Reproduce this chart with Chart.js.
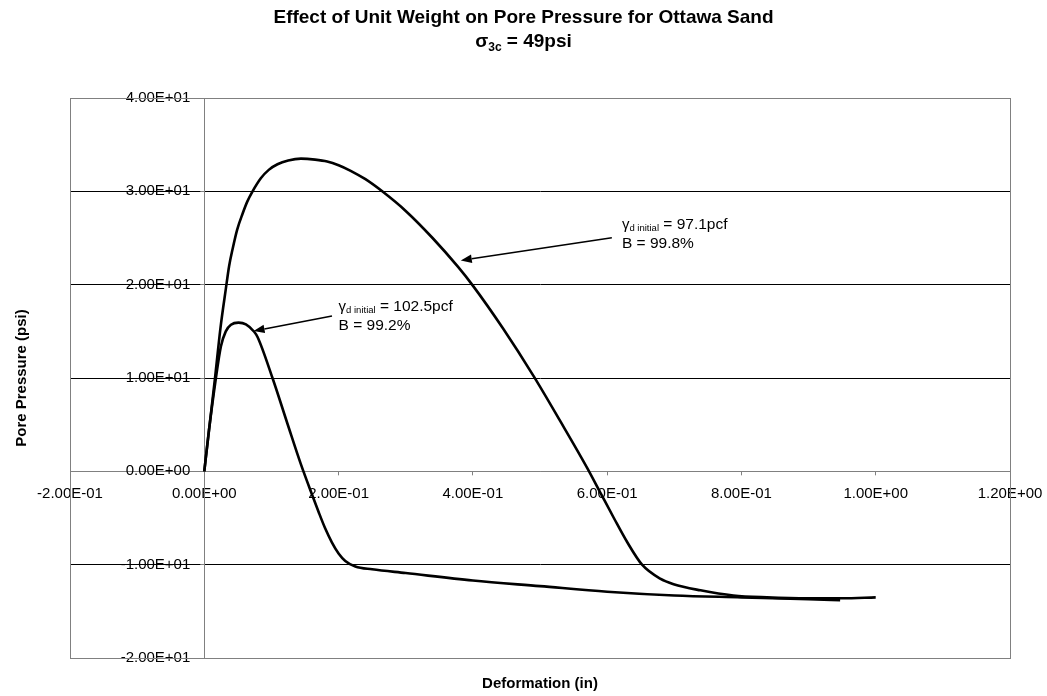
<!DOCTYPE html>
<html><head><meta charset="utf-8">
<script src="https://cdn.jsdelivr.net/npm/chart.js@4.4.1/dist/chart.umd.min.js"></script>
<style>html,body{margin:0;padding:0;background:#fff}canvas{display:block}</style>
</head><body>
<canvas id="c" width="1047" height="696"></canvas>
<script>
// ---- data ----
const xTicks = [-0.2, 0, 0.2, 0.4, 0.6, 0.8, 1.0, 1.2];
const yTicks = [-20, -10, 0, 10, 20, 30, 40];

// gamma_d initial = 97.1 pcf, B = 99.8%
const def97X = [0, 0.007, 0.016, 0.024, 0.0322, 0.037, 0.0421, 0.049, 0.057, 0.064, 0.0719, 0.0842, 0.096, 0.109, 0.125, 0.144, 0.165, 0.183, 0.2, 0.218, 0.24, 0.265, 0.30, 0.34, 0.378, 0.40, 0.445, 0.4905, 0.53, 0.57, 0.59, 0.61, 0.63, 0.652, 0.679, 0.699, 0.739, 0.788, 0.838, 0.9, 0.95, 1.0];
const pp97Y  = [0, 4.4, 10.0, 15.3, 19.6, 22.0, 23.8, 25.9, 27.6, 28.9, 30.0, 31.4, 32.3, 32.9, 33.3, 33.5, 33.4, 33.2, 32.8, 32.2, 31.3, 30.0, 27.9, 25.0, 21.9, 19.9, 15.3, 10.2, 5.4, 0.4, -2.3, -5.0, -7.6, -10.0, -11.5, -12.1, -12.75, -13.3, -13.5, -13.6, -13.6, -13.5];

// gamma_d initial = 102.5 pcf, B = 99.2%
const def102X = [0, 0.007, 0.0173, 0.0248, 0.032, 0.0397, 0.051, 0.062, 0.0743, 0.0793, 0.1016, 0.1239, 0.1437, 0.16, 0.17, 0.18, 0.19, 0.20, 0.21, 0.225, 0.25, 0.3, 0.4, 0.5, 0.6, 0.7, 0.8, 0.9, 0.947];
const pp102Y  = [0, 4.4, 10.0, 13.4, 15.0, 15.7, 15.93, 15.75, 14.96, 14.4, 10.0, 5.1, 0.8, -2.4, -4.3, -6.1, -7.6, -8.8, -9.6, -10.2, -10.5, -10.9, -11.7, -12.3, -12.9, -13.3, -13.5, -13.7, -13.8];

const chartTitle = 'Effect of Unit Weight on Pore Pressure for Ottawa Sand';
const subTitleParts = ['σ', '3c', ' = 49psi'];
const xTitle = 'Deformation (in)';
const yTitle = 'Pore Pressure (psi)';
const notes = [
  {gamma: '97.1pcf', B: '99.8%', at: [0.622, 26.0], from: [0.607, 25.02], to: [0.382, 22.6]},
  {gamma: '102.5pcf', B: '99.2%', at: [0.2, 17.18], from: [0.1902, 16.64], to: [0.0734, 15.03]}
];

// ---- helpers ----
const FAM = '"Liberation Sans", Arial, Helvetica, sans-serif';
const GRAY = '#808080';
function sci(v) {
  if (Math.abs(v) < 1e-12) return '0.00E+00';
  const s = v.toExponential(2);
  const parts = s.split('e');
  const n = parseInt(parts[1], 10);
  return parts[0] + 'E' + (n < 0 ? '-' : '+') + String(Math.abs(n)).padStart(2, '0');
}
function pts(xs, ys) { return xs.map((x, i) => ({x: x, y: ys[i]})); }
function drawRich(ctx, runs, x, y, align) {
  let total = 0;
  runs.forEach(r => { ctx.font = r.f; r.w = ctx.measureText(r.t).width; total += r.w; });
  let cx = align === 'center' ? x - total / 2 : x;
  ctx.textAlign = 'left';
  runs.forEach(r => { ctx.font = r.f; ctx.fillText(r.t, cx, y + (r.dy || 0)); cx += r.w; });
}
function arrow(ctx, x1, y1, x2, y2) {
  const ang = Math.atan2(y2 - y1, x2 - x1);
  const L = 11, W = 4.2;
  const bx = x2 - L * Math.cos(ang), by = y2 - L * Math.sin(ang);
  ctx.beginPath(); ctx.moveTo(x1, y1); ctx.lineTo(bx, by);
  ctx.lineWidth = 1.6; ctx.strokeStyle = '#000'; ctx.stroke();
  ctx.beginPath();
  ctx.moveTo(x2, y2);
  ctx.lineTo(bx + W * Math.sin(ang), by - W * Math.cos(ang));
  ctx.lineTo(bx - W * Math.sin(ang), by + W * Math.cos(ang));
  ctx.closePath(); ctx.fillStyle = '#000'; ctx.fill();
}

const decor = {
  id: 'decor',
  afterLayout(chart) {
    const xs = chart.scales.x, ys = chart.scales.y;
    const px0 = xs.getPixelForValue(0), py0 = ys.getPixelForValue(0);
    ys.right = px0; ys.left = 0;
    xs.top = py0; xs.bottom = chart.height;
  },
  beforeDatasetsDraw(chart) {
    const a = chart.chartArea, ctx = chart.ctx;
    ctx.save();
    ctx.strokeStyle = GRAY; ctx.lineWidth = 1;
    ctx.strokeRect(Math.round(a.left) + 0.5, Math.round(a.top) + 0.5, Math.round(a.right - a.left), Math.round(a.bottom - a.top));
    ctx.restore();
  },
  afterDraw(chart) {
    const ctx = chart.ctx, a = chart.chartArea;
    const xs = chart.scales.x, ys = chart.scales.y;
    ctx.save();
    ctx.fillStyle = '#000';
    ctx.textBaseline = 'alphabetic';
    const cx = chart.width / 2;
    ctx.font = 'bold 19px ' + FAM; ctx.textAlign = 'center';
    ctx.fillText(chartTitle, cx, 23);
    drawRich(ctx, [
      {t: subTitleParts[0], f: 'bold 19px ' + FAM},
      {t: subTitleParts[1], f: 'bold 12px ' + FAM, dy: 4},
      {t: subTitleParts[2], f: 'bold 19px ' + FAM}
    ], cx, 47, 'center');

    // axis titles
    ctx.font = 'bold 15px ' + FAM; ctx.textAlign = 'center';
    ctx.fillText(xTitle, (a.left + a.right) / 2, 688);
    ctx.save();
    ctx.translate(22, (a.top + a.bottom) / 2);
    ctx.rotate(-Math.PI / 2);
    ctx.textBaseline = 'middle';
    ctx.fillText(yTitle, 0, 0);
    ctx.restore();

    // annotations
    notes.forEach(n => {
      const tx = xs.getPixelForValue(n.at[0]), ty = ys.getPixelForValue(n.at[1]);
      ctx.fillStyle = '#000';
      drawRich(ctx, [
        {t: 'γ', f: '15px ' + FAM},
        {t: 'd initial', f: '9.5px ' + FAM, dy: 2},
        {t: ' = ' + n.gamma, f: '15.5px ' + FAM}
      ], tx, ty, 'left');
      ctx.font = '15.5px ' + FAM; ctx.textAlign = 'left';
      ctx.fillText('B = ' + n.B, tx, ty + 19.5);
      arrow(ctx, xs.getPixelForValue(n.from[0]), ys.getPixelForValue(n.from[1]),
                 xs.getPixelForValue(n.to[0]), ys.getPixelForValue(n.to[1]));
    });
    ctx.restore();
  }
};

Chart.defaults.font.family = FAM;
Chart.defaults.color = '#000';

new Chart(document.getElementById('c'), {
  type: 'scatter',
  data: {
    datasets: [
      {label: '97.1pcf', data: pts(def97X, pp97Y), showLine: true, borderColor: '#000', borderWidth: 2.6, pointRadius: 0, cubicInterpolationMode: 'monotone', fill: false},
      {label: '102.5pcf', data: pts(def102X, pp102Y), showLine: true, borderColor: '#000', borderWidth: 2.6, pointRadius: 0, cubicInterpolationMode: 'monotone', fill: false}
    ]
  },
  options: {
    responsive: false,
    animation: false,
    devicePixelRatio: 1,
    layout: {padding: {left: 70, right: 37, top: 98, bottom: 38}},
    plugins: {legend: {display: false}, tooltip: {enabled: false}, title: {display: false}},
    scales: {
      x: {
        type: 'linear', position: 'bottom', min: -0.2, max: 1.2,
        afterBuildTicks: s => { s.ticks = xTicks.map(v => ({value: v})); },
        afterFit: s => { s.height = 0; s.paddingLeft = 0; s.paddingRight = 0; },
        grid: {drawOnChartArea: false, drawTicks: true, tickLength: 4, color: GRAY, tickColor: GRAY},
        border: {display: true, color: GRAY, width: 1},
        ticks: {autoSkip: false, maxRotation: 0, padding: 10, font: {size: 15}, color: '#000', callback: v => sci(v)}
      },
      y: {
        type: 'linear', position: 'left', min: -20, max: 40,
        afterBuildTicks: s => { s.ticks = yTicks.map(v => ({value: v})); },
        afterFit: s => { s.width = 0; s.paddingTop = 0; s.paddingBottom = 0; },
        grid: {drawOnChartArea: true, drawTicks: true, tickLength: 4,
               color: c => (c.tick && c.tick.value === 0) ? GRAY : '#000', tickColor: GRAY},
        border: {display: true, color: GRAY, width: 1},
        ticks: {autoSkip: false, padding: 10, font: {size: 15}, color: '#000', callback: v => sci(v)}
      }
    }
  },
  plugins: [decor]
});
</script>
</body></html>
